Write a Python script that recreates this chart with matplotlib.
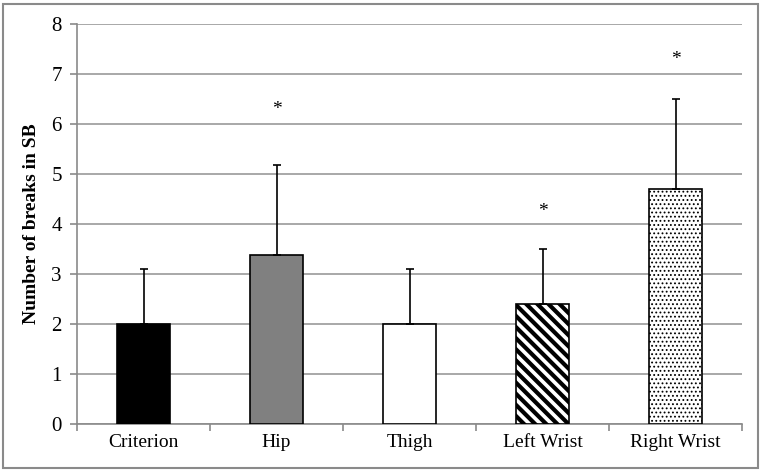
import matplotlib
matplotlib.use("Agg")
import matplotlib.pyplot as plt
from matplotlib.patches import Rectangle
import matplotlib.transforms as mtransforms

categories = ["Criterion", "Hip", "Thigh", "Left Wrist", "Right Wrist"]
means = [2.0, 3.38, 2.0, 2.4, 4.7]
sds = [1.1, 1.8, 1.1, 1.1, 1.8]
star_y = [None, 6.4, None, 4.36, 7.4]
yticks = [0, 1, 2, 3, 4, 5, 6, 7, 8]

plt.rcParams['font.family'] = ['Liberation Serif', 'DejaVu Serif']

fig = plt.figure(figsize=(7.62, 4.72), dpi=100)
ax = fig.add_axes([77/762, 48/472, 665/762, 400/472])

face = ["black", "#808080", "white", "white", "white"]
hatches = [None, None, None, "\\\\\\", "...."]
hlw = [1.0, 1.0, 1.0, 3.0, 0.8]
x = list(range(len(categories)))
star_tr = ax.transData + mtransforms.ScaledTranslation(0, -4/72, fig.dpi_scale_trans)
for i in x:
    with plt.rc_context({'hatch.linewidth': hlw[i], 'hatch.color': '#444444' if i == 4 else 'black'}):
        ax.bar(i, means[i], width=0.4, color=face[i], edgecolor="black",
               linewidth=1.2, hatch=hatches[i], zorder=3)
    ax.errorbar(i, means[i], yerr=[[0], [sds[i]]], fmt='none', ecolor='black',
                elinewidth=1.2, capsize=3, capthick=1.2, zorder=4)
    if star_y[i] is not None:
        ax.text(i, star_y[i], "*", ha='center', va='center', fontsize=14, zorder=5,
                transform=star_tr)

ax.set_xlim(-0.5, len(categories) - 0.5)
ax.set_ylim(0, 8)
ax.set_yticks(yticks)
ax.set_yticklabels([str(v) for v in yticks], fontsize=15)
ax.set_xticks(x)
ax.set_xticklabels(categories, fontsize=14)
ax.tick_params(axis='x', length=0, pad=7)
ax.set_xticks([i + 0.5 for i in range(-1, len(categories))], minor=True)
ax.tick_params(axis='x', which='minor', length=5, color='#8a8a8a', width=1.2)
ax.tick_params(axis='y', length=5, color='#8a8a8a', width=1.2, pad=6)
ax.grid(axis='y', color='#9a9a9a', linewidth=1.2, zorder=0)
ax.set_axisbelow(True)
for s in ['top', 'right']:
    ax.spines[s].set_visible(False)
for s in ['left', 'bottom']:
    ax.spines[s].set_color('#8a8a8a')
    ax.spines[s].set_linewidth(1.2)
ax.set_ylabel("Number of breaks in SB", fontsize=14, fontweight='bold', labelpad=8)

fig.patches.append(Rectangle((3/762, 4/472), 755/762, 464/472, transform=fig.transFigure,
                             fill=False, edgecolor='#8a8a8a', linewidth=1.5))
fig.savefig("out.png", dpi=100)
